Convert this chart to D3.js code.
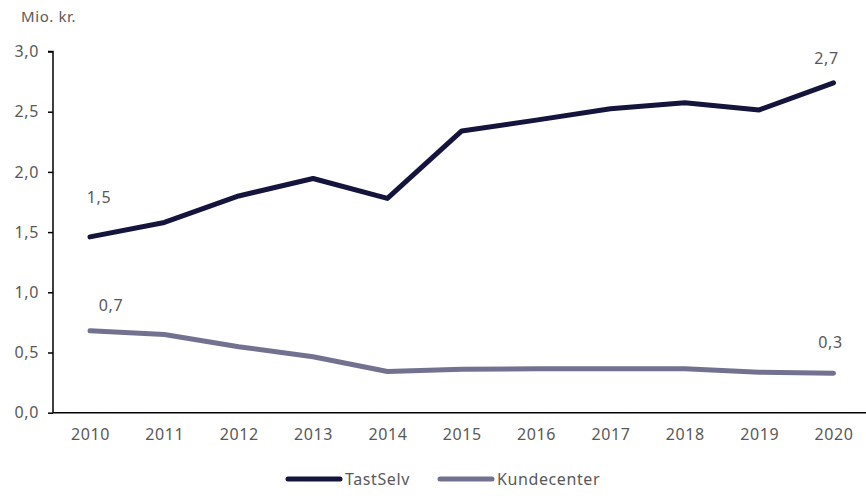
<!DOCTYPE html>
<html>
<head>
<meta charset="utf-8">
<script src="https://d3js.org/d3.v7.min.js"></script>
<style>
body { margin: 0; background: #fff; }
text { font-family: "Noto Sans", sans-serif; fill: #595959; letter-spacing: 0.6px; }
</style>
</head>
<body>
<div id="chart"></div>
<script>
var years = [2010, 2011, 2012, 2013, 2014, 2015, 2016, 2017, 2018, 2019, 2020];
var tastSelv = [1.46, 1.58, 1.80, 1.945, 1.78, 2.34, 2.43, 2.525, 2.575, 2.515, 2.74];
var kundecenter = [0.68, 0.65, 0.548, 0.465, 0.342, 0.36, 0.364, 0.365, 0.365, 0.336, 0.328];
var yTicks = [0, 0.5, 1, 1.5, 2, 2.5, 3];
var seriesNames = ["TastSelv", "Kundecenter"];
var seriesColors = ["#15143d", "#727290"];

var width = 866, height = 496;
var svg = d3.select("#chart").append("svg")
    .attr("width", width)
    .attr("height", height);

var x = d3.scalePoint().domain(years).range([90, 833.5]);
var y = d3.scaleLinear().domain([0, 3]).range([412.7, 51.5]);
var fmt = function(d) { return d3.format(".1f")(d).replace(".", ","); };

// y axis
var yAxis = svg.append("g")
    .attr("transform", "translate(53,0)")
    .call(d3.axisLeft(y).tickValues(yTicks).tickSize(5).tickPadding(9).tickFormat(fmt));
yAxis.select(".domain").attr("stroke", "#000").attr("stroke-width", 1.5).attr("d", "M-5," + y(3) + "H0V" + y(0));
yAxis.selectAll(".tick line").attr("stroke", "#000").attr("stroke-width", 1.5);
yAxis.selectAll(".tick text").style("font-size", "16px").style("fill", "#595959");

// x axis
var xAxis = svg.append("g")
    .attr("transform", "translate(0," + y(0) + ")")
    .call(d3.axisBottom(x).tickSize(0).tickPadding(16));
xAxis.select(".domain").attr("stroke", "#000").attr("stroke-width", 1.5).attr("d", "M53,0H866");
xAxis.selectAll(".tick text").style("font-size", "16px").style("fill", "#595959");

svg.append("text")
    .attr("x", 21).attr("y", 22)
    .style("font-size", "15px")
    .text("Mio. kr.");

var line = d3.line()
    .x(function(d, i) { return x(years[i]); })
    .y(function(d) { return y(d); });

[tastSelv, kundecenter].forEach(function(s, i) {
    svg.append("path")
        .datum(s)
        .attr("fill", "none")
        .attr("stroke", seriesColors[i])
        .attr("stroke-width", 5)
        .attr("stroke-linecap", "round")
        .attr("stroke-linejoin", "round")
        .attr("d", line);
});

// data labels: first and last of each series
var labels = [
    {v: tastSelv[0], x: x(years[0]) + 9, dy: -34},
    {v: kundecenter[0], x: x(years[0]) + 21, dy: -20},
    {v: tastSelv[10], x: x(years[10]) - 7, dy: -19},
    {v: kundecenter[10], x: x(years[10]) - 3, dy: -25}
];
svg.selectAll(".lbl")
    .data(labels)
    .enter().append("text")
    .attr("class", "lbl")
    .attr("x", function(d) { return d.x; })
    .attr("y", function(d) { return y(d.v) + d.dy; })
    .attr("text-anchor", "middle")
    .style("font-size", "16px")
    .text(function(d) { return fmt(d.v); });

// legend
var legendX = [288, 440];
seriesNames.forEach(function(n, i) {
    var g = svg.append("g").attr("transform", "translate(" + legendX[i] + ",479)");
    g.append("line")
        .attr("x1", 0).attr("x2", 52)
        .attr("stroke", seriesColors[i])
        .attr("stroke-width", 5)
        .attr("stroke-linecap", "round");
    g.append("text")
        .attr("x", 57).attr("y", 6)
        .style("font-size", "16px")
        .text(n);
});
</script>
</body>
</html>
